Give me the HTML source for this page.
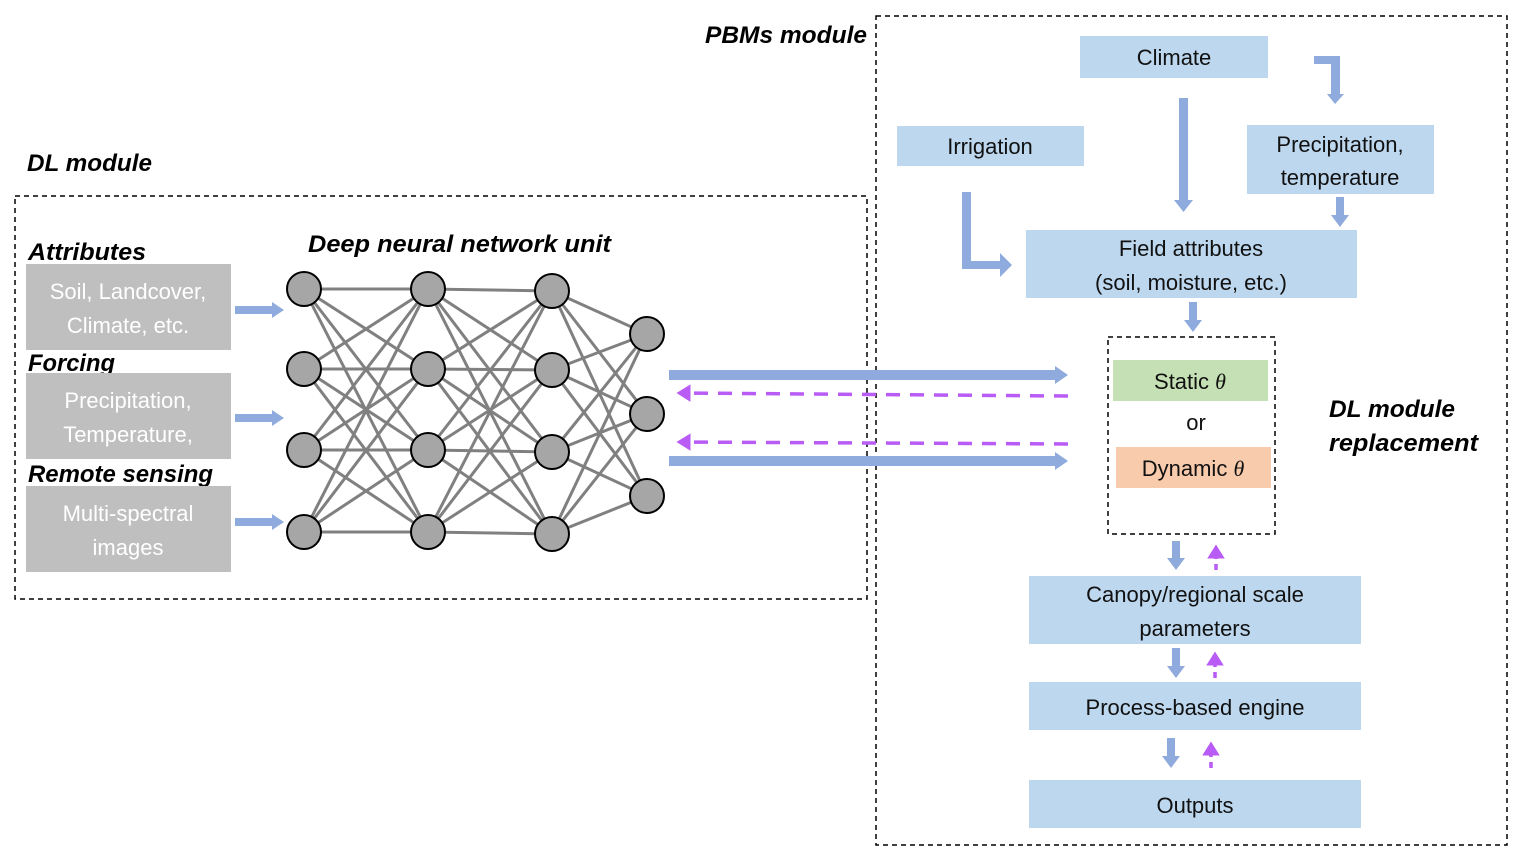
<!DOCTYPE html>
<html><head><meta charset="utf-8"><style>
html,body{margin:0;padding:0;background:#fff;}
svg{display:block;}
text{font-family:"Liberation Sans",sans-serif;}
.t{font-size:22px;fill:#111;text-anchor:middle;}
.w{font-size:22px;fill:#fff;text-anchor:middle;}
.b{font-size:24px;font-weight:bold;font-style:italic;fill:#000;}
.box{fill:#bdd7ee;}
.g{fill:#bfbfbf;}
.nn line{stroke:#808080;stroke-width:3;}
.nn circle{fill:#a6a6a6;stroke:#000;stroke-width:2;}
.pa{stroke:#b85cf5;stroke-width:3.5;stroke-dasharray:14 10;fill:none;}
</style></head><body>
<svg width="1522" height="856" viewBox="0 0 1522 856" xmlns="http://www.w3.org/2000/svg">
<defs>
<marker id="pah" markerWidth="6" markerHeight="6" refX="3" refY="3" orient="auto" markerUnits="strokeWidth"><path d="M0,0.5 L4,3 L0,5.5 Z" fill="#b85cf5"/></marker>
</defs>
<rect x="15" y="196" width="852" height="403" fill="none" stroke="#000" stroke-width="1.5" stroke-dasharray="5 4"/>
<rect x="876" y="16" width="631" height="829" fill="none" stroke="#000" stroke-width="1.5" stroke-dasharray="5 4"/>
<rect x="1108" y="337" width="167" height="197" fill="none" stroke="#000" stroke-width="1.5" stroke-dasharray="5 4"/>

<text class="b" x="705" y="43" textLength="162" lengthAdjust="spacingAndGlyphs">PBMs module</text>
<text class="b" x="27" y="171" textLength="125" lengthAdjust="spacingAndGlyphs">DL module</text>
<text class="b" x="308" y="252" textLength="303" lengthAdjust="spacingAndGlyphs">Deep neural network unit</text>
<text class="b" x="28" y="260" textLength="118" lengthAdjust="spacingAndGlyphs">Attributes</text>
<text class="b" x="28" y="371" textLength="87" lengthAdjust="spacingAndGlyphs">Forcing</text>
<text class="b" x="28" y="482" textLength="185" lengthAdjust="spacingAndGlyphs">Remote sensing</text>
<text class="b" x="1329" y="417" textLength="126" lengthAdjust="spacingAndGlyphs">DL module</text>
<text class="b" x="1329" y="451" textLength="149" lengthAdjust="spacingAndGlyphs">replacement</text>

<rect class="g" x="26" y="264" width="205" height="86"/>
<text class="w" x="128" y="299">Soil, Landcover,</text>
<text class="w" x="128" y="333">Climate, etc.</text>
<rect class="g" x="26" y="373" width="205" height="86"/>
<text class="w" x="128" y="408">Precipitation,</text>
<text class="w" x="128" y="442">Temperature,</text>
<rect class="g" x="26" y="486" width="205" height="86"/>
<text class="w" x="128" y="521">Multi-spectral</text>
<text class="w" x="128" y="555">images</text>

<g fill="#8faadc">
<rect x="235" y="306" width="38" height="8"/><path d="M272,302 L284,310 L272,318Z"/>
<rect x="235" y="414" width="38" height="8"/><path d="M272,410 L284,418 L272,426Z"/>
<rect x="235" y="518" width="38" height="8"/><path d="M272,514 L284,522 L272,530Z"/>
</g>

<g class="nn">
<line x1="304" y1="289" x2="428" y2="289"/><line x1="304" y1="289" x2="428" y2="369"/><line x1="304" y1="289" x2="428" y2="450"/><line x1="304" y1="289" x2="428" y2="532"/>
<line x1="304" y1="369" x2="428" y2="289"/><line x1="304" y1="369" x2="428" y2="369"/><line x1="304" y1="369" x2="428" y2="450"/><line x1="304" y1="369" x2="428" y2="532"/>
<line x1="304" y1="450" x2="428" y2="289"/><line x1="304" y1="450" x2="428" y2="369"/><line x1="304" y1="450" x2="428" y2="450"/><line x1="304" y1="450" x2="428" y2="532"/>
<line x1="304" y1="532" x2="428" y2="289"/><line x1="304" y1="532" x2="428" y2="369"/><line x1="304" y1="532" x2="428" y2="450"/><line x1="304" y1="532" x2="428" y2="532"/>
<line x1="428" y1="289" x2="552" y2="291"/><line x1="428" y1="289" x2="552" y2="370"/><line x1="428" y1="289" x2="552" y2="452"/><line x1="428" y1="289" x2="552" y2="534"/>
<line x1="428" y1="369" x2="552" y2="291"/><line x1="428" y1="369" x2="552" y2="370"/><line x1="428" y1="369" x2="552" y2="452"/><line x1="428" y1="369" x2="552" y2="534"/>
<line x1="428" y1="450" x2="552" y2="291"/><line x1="428" y1="450" x2="552" y2="370"/><line x1="428" y1="450" x2="552" y2="452"/><line x1="428" y1="450" x2="552" y2="534"/>
<line x1="428" y1="532" x2="552" y2="291"/><line x1="428" y1="532" x2="552" y2="370"/><line x1="428" y1="532" x2="552" y2="452"/><line x1="428" y1="532" x2="552" y2="534"/>
<line x1="552" y1="291" x2="647" y2="334"/><line x1="552" y1="291" x2="647" y2="414"/><line x1="552" y1="291" x2="647" y2="496"/>
<line x1="552" y1="370" x2="647" y2="334"/><line x1="552" y1="370" x2="647" y2="414"/><line x1="552" y1="370" x2="647" y2="496"/>
<line x1="552" y1="452" x2="647" y2="334"/><line x1="552" y1="452" x2="647" y2="414"/><line x1="552" y1="452" x2="647" y2="496"/>
<line x1="552" y1="534" x2="647" y2="334"/><line x1="552" y1="534" x2="647" y2="414"/><line x1="552" y1="534" x2="647" y2="496"/>
<circle cx="304" cy="289" r="17"/><circle cx="304" cy="369" r="17"/><circle cx="304" cy="450" r="17"/><circle cx="304" cy="532" r="17"/>
<circle cx="428" cy="289" r="17"/><circle cx="428" cy="369" r="17"/><circle cx="428" cy="450" r="17"/><circle cx="428" cy="532" r="17"/>
<circle cx="552" cy="291" r="17"/><circle cx="552" cy="370" r="17"/><circle cx="552" cy="452" r="17"/><circle cx="552" cy="534" r="17"/>
<circle cx="647" cy="334" r="17"/><circle cx="647" cy="414" r="17"/><circle cx="647" cy="496" r="17"/>
</g>

<g fill="#8faadc">
<rect x="669" y="370" width="388" height="10"/><path d="M1055,366 L1068,375 L1055,384Z"/>
<rect x="669" y="456" width="388" height="10"/><path d="M1055,452 L1068,461 L1055,470Z"/>
</g>
<line class="pa" x1="1068" y1="396" x2="680" y2="393" marker-end="url(#pah)"/>
<line class="pa" x1="1068" y1="444" x2="680" y2="442" marker-end="url(#pah)"/>

<rect class="box" x="1080" y="36" width="188" height="42"/><text class="t" x="1174" y="65">Climate</text>
<rect class="box" x="897" y="126" width="187" height="40"/><text class="t" x="990" y="154">Irrigation</text>
<rect class="box" x="1247" y="125" width="187" height="69"/><text class="t" x="1340" y="152">Precipitation,</text><text class="t" x="1340" y="185">temperature</text>
<rect class="box" x="1026" y="230" width="331" height="68"/><text class="t" x="1191" y="256">Field attributes</text><text class="t" x="1191" y="290">(soil, moisture, etc.)</text>
<rect x="1113" y="360" width="155" height="41" fill="#c5e0b4"/><text class="t" x="1190" y="389">Static <tspan font-family="Liberation Serif" font-style="italic">θ</tspan></text>
<text class="t" x="1196" y="430">or</text>
<rect x="1116" y="447" width="155" height="41" fill="#f8cbad"/><text class="t" x="1193" y="476">Dynamic <tspan font-family="Liberation Serif" font-style="italic">θ</tspan></text>
<rect class="box" x="1029" y="576" width="332" height="68"/><text class="t" x="1195" y="602">Canopy/regional scale</text><text class="t" x="1195" y="636">parameters</text>
<rect class="box" x="1029" y="682" width="332" height="48"/><text class="t" x="1195" y="715">Process-based engine</text>
<rect class="box" x="1029" y="780" width="332" height="48"/><text class="t" x="1195" y="813">Outputs</text>

<g fill="#8faadc">
<rect x="1179" y="98" width="9" height="104"/><path d="M1174,200 L1183.5,212 L1193,200Z"/>
<path d="M962,192 L971,192 L971,261 L1000,261 L1000,253 L1012,265 L1000,277 L1000,269 L962,269Z"/>
<path d="M1314,56 L1340,56 L1340,94 L1344,94 L1335,104 L1327,94 L1331,94 L1331,64 L1314,64Z"/>
<rect x="1336" y="197" width="8" height="20"/><path d="M1331,215 L1340,227 L1349,215Z"/>
<rect x="1189" y="302" width="8" height="20"/><path d="M1184,320 L1193,332 L1202,320Z"/>
<rect x="1172" y="541" width="8" height="19"/><path d="M1167,558 L1176,570 L1185,558Z"/>
<rect x="1172" y="648" width="8" height="20"/><path d="M1167,666 L1176,678 L1185,666Z"/>
<rect x="1167" y="738" width="8" height="20"/><path d="M1162,756 L1171,768 L1180,756Z"/>
</g>
<line class="pa" style="stroke-dasharray:6 5" x1="1216" y1="570" x2="1216" y2="548" marker-end="url(#pah)"/>
<line class="pa" style="stroke-dasharray:6 5" x1="1215" y1="678" x2="1215" y2="655" marker-end="url(#pah)"/>
<line class="pa" style="stroke-dasharray:6 5" x1="1211" y1="768" x2="1211" y2="745" marker-end="url(#pah)"/>
</svg>
</body></html>
